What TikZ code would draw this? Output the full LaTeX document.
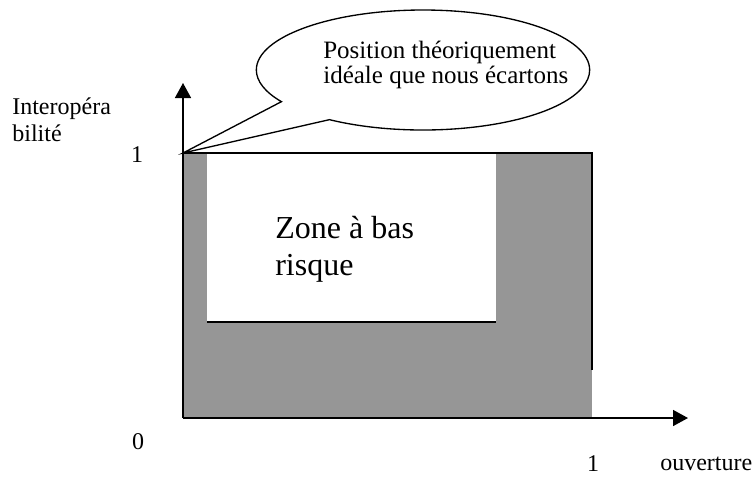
\documentclass[tikz,border=0pt]{standalone}
\usepackage{fontspec}
\setmainfont{Liberation Serif}
\usetikzlibrary{arrows.meta,shapes.callouts}
\definecolor{zonegray}{RGB}{150,150,150}

\begin{document}
\begin{tikzpicture}[x=0.6pt,y=-0.6pt,
  axe/.style={line width=0.9pt,-{Triangle[length=9pt,width=9.6pt]}},
  bord/.style={line width=0.8pt},
  lbl/.style={font=\rmfamily\fontsize{14.4}{16.2}\selectfont,inner sep=0pt,align=left},
  bulle/.style={ellipse callout,draw,fill=white,line width=0.8pt,
    minimum width=200pt,minimum height=72pt,callout pointer arc=24}]
\useasboundingbox (0,0) rectangle (752,476);
% points of the axes
\coordinate (O) at (183,418);
\coordinate (ytop) at (183,153);
\coordinate (ytip) at (183,83);
\coordinate (xtip) at (688,418);
\coordinate (rtop) at (592,153);
\coordinate (rcut) at (592,370);
\coordinate (wtl) at (207,153);
\coordinate (wbl) at (207,322);
\coordinate (wbr) at (496,322);
\coordinate (bl) at (207,418);
\coordinate (br) at (496,418);

% zones
\fill[zonegray] (O) rectangle (rtop);
\fill[white] (wtl) rectangle (wbr);
\draw[bord] (ytop) -- (rtop) -- (rcut);
\draw[bord] (wbl) -- (wbr);
\draw[axe] (O) -- (ytip);
\draw[axe] (O) -- (xtip);
\draw[line width=1.3pt] (bl) -- (br);

% bulle
\node[bulle,callout absolute pointer={(ytop)}] (bulle) at (423,70) {};
\node[lbl,font=\rmfamily\fontsize{15}{14.5}\selectfont,anchor=west] (bulletxt) at (323,65) {Position théoriquement\\idéale que nous écartons};

% textes
\node[lbl,font=\rmfamily\fontsize{19.2}{22.2}\selectfont,anchor=west] (zone) at (275,249) {Zone à bas\\risque};
\node[lbl,anchor=west] (yname) at (12,120) {Interopéra\\bilité};
\node[lbl] (yone) at (137,155) {1};
\node[lbl] (zero) at (138,442) {0};
\node[lbl] (xonelbl) at (593,464) {1};
\node[lbl,anchor=west] (xname) at (660,464) {ouverture};
\end{tikzpicture}
\end{document}
